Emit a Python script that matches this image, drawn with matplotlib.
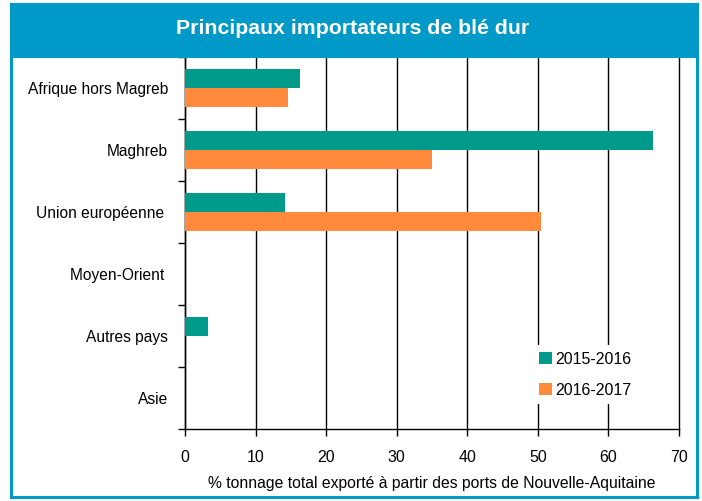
import matplotlib
matplotlib.use('Agg')
import matplotlib.pyplot as plt
from matplotlib.patches import Rectangle, Patch
import numpy as np

plt.rcParams['font.family'] = ['Liberation Sans', 'DejaVu Sans']

categories = ['Afrique hors Magreb', 'Maghreb', 'Union européenne ',
              'Moyen-Orient ', 'Autres pays', 'Asie']
serie_2015 = [16.3, 66.3, 14.2, 0.0, 3.3, 0.0]
serie_2016 = [14.6, 35.0, 50.4, 0.0, 0.0, 0.0]
labels = ['2015-2016', '2016-2017']
xticks = [0, 10, 20, 30, 40, 50, 60, 70]

teal = '#009a8b'
orange = '#ff8a3b'
blue = '#0099c8'

fig = plt.figure(figsize=(7.02, 5.01), dpi=100)

# cadre + bandeau de titre
fig.patches.append(Rectangle((11 / 702, 4 / 501), 686 / 702, 493 / 501,
                             transform=fig.transFigure, fill=False,
                             edgecolor=blue, linewidth=2.2))
fig.patches.append(Rectangle((11 / 702, 1 - 56 / 501), 686 / 702, 52 / 501,
                             transform=fig.transFigure, facecolor=blue,
                             edgecolor=blue, linewidth=2.2))
fig.text(0.503, 1 - 29 / 501, 'Principaux importateurs de blé dur',
         ha='center', va='center', color='white', fontsize=15.3,
         fontweight='bold')

ax = fig.add_axes([185 / 702, 1 - 429 / 501, 494 / 702, 372 / 501])

y = np.arange(len(categories))
h = 0.3
ax.barh(y - h / 2, serie_2015, height=h, color=teal, label=labels[0], zorder=3)
ax.barh(y + h / 2, serie_2016, height=h, color=orange, label=labels[1], zorder=3)

ax.set_xlim(0, 70)
ax.set_ylim(len(categories) - 0.5, -0.5)
ax.set_xticks(xticks)
ax.xaxis.grid(True, color='black', linewidth=1, zorder=1)
ax.set_axisbelow(True)
for gl in ax.get_xgridlines():
    gl.set_clip_on(False)

ax.set_yticks(np.arange(-0.5, len(categories), 1.0))
ax.set_yticklabels([])
ax.set_yticks(y, minor=True)
ax.set_yticklabels(categories, minor=True)
ax.tick_params(axis='y', which='minor', length=0, pad=12, labelsize=11.2)
ax.tick_params(axis='y', which='major', length=5, width=1, direction='out')
ax.tick_params(axis='x', length=5, width=1, direction='out', labelsize=11.5,
               pad=10)

for s in ['top', 'right']:
    ax.spines[s].set_visible(False)
for s in ['left', 'bottom']:
    ax.spines[s].set_color('black')
    ax.spines[s].set_linewidth(1)

ax.set_xlabel('% tonnage total exporté à partir des ports de Nouvelle-Aquitaine',
              fontsize=11.3, labelpad=8)

handles = [Patch(facecolor=teal), Patch(facecolor=orange)]
leg = ax.legend(handles, labels, loc='lower left',
                bbox_to_anchor=(340 / 494, 17 / 372), frameon=True,
                fontsize=11.5, handlelength=0.8, handleheight=0.8,
                handletextpad=0.2, labelspacing=1.0, borderpad=0.4,
                fancybox=False)
leg.get_frame().set_facecolor('white')
leg.get_frame().set_edgecolor('none')
leg.get_frame().set_alpha(1)

fig.savefig('out.png', dpi=100)
